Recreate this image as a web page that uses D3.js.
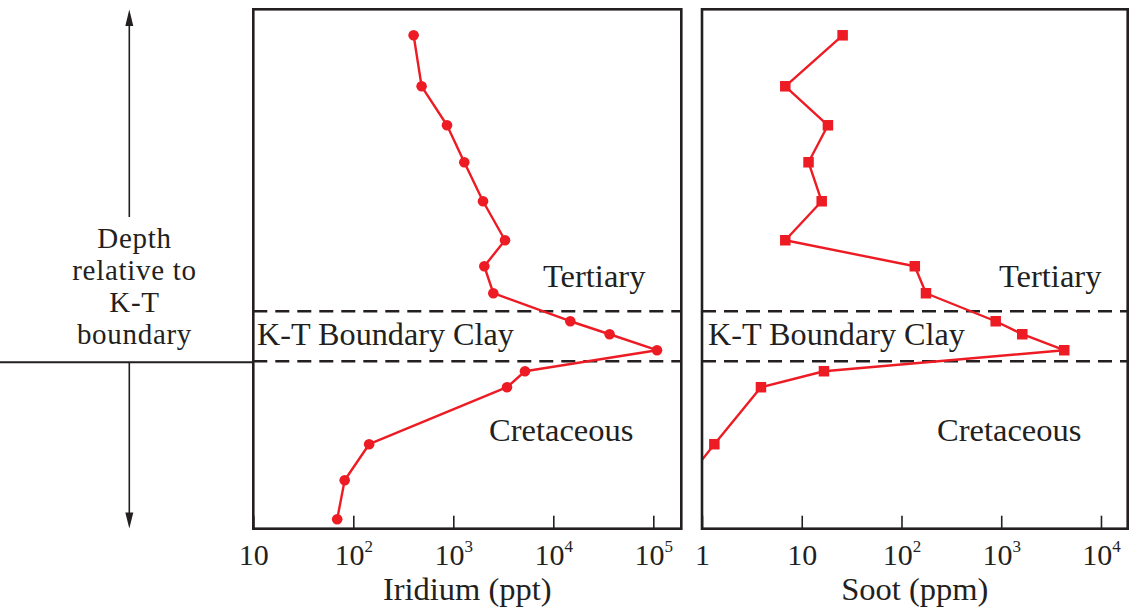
<!DOCTYPE html>
<html>
<head>
<meta charset="utf-8">
<script src="https://cdn.jsdelivr.net/npm/d3@7"></script>
<style>
  html, body { margin: 0; padding: 0; background: #fff; }
  svg { display: block; }
  text { font-family: "Liberation Serif", "Times New Roman", serif; fill: #231f20; }
</style>
</head>
<body>
<svg id="chart" width="1129" height="614"></svg>
<script>
// ---- data ----
// depth relative to the K-T boundary (arbitrary units, positive = above / younger)
const depth   = [32.6, 27.5, 23.6, 19.9, 16.0, 12.1, 9.5, 6.8, 4.0, 2.7, 1.1, -1.0, -2.6, -8.3, -11.9, -15.8];
const iridium = [401, 482, 865, 1288, 1982, 3289, 2042, 2512, 14790, 36560, 108900, 5212, 3443, 144, 82, 69];   // ppt
const soot    = [25.7, 6.84, 18.3, 11.7, 15.85, 6.84, 136, 176, 880, 1626, 4285, 16.7, 3.9, 1.33, 0.69];         // ppm
const clayBounds = [0, 5];            // lower / upper limits of the K-T boundary clay
const iridiumTicks = [10, 100, 1e3, 1e4, 1e5];
const sootTicks    = [1, 10, 100, 1e3, 1e4];
const regionLabels = ["Tertiary", "K-T Boundary Clay", "Cretaceous"];
const depthLabel = ["Depth", "relative to", "K-T", "boundary"];
const axisTitles = ["Iridium (ppt)", "Soot (ppm)"];

const RED = "#ed1c24", INK = "#231f20";
const svg = d3.select("#chart");

const plotTop = 9.3, plotBottom = 528.7;
const y = d3.scaleLinear().domain([-16.75, 35.2]).range([plotBottom, plotTop]);

const panels = [
  { x0: 253.3, x1: 681.3, domain: [10, Math.pow(10, 5.28)], values: iridium, ticks: iridiumTicks,
    title: axisTitles[0], marker: "circle", id: "ir" },
  { x0: 702, x1: 1127.7, domain: [1, Math.pow(10, 4.268)], values: soot, ticks: sootTicks,
    title: axisTitles[1], marker: "square", id: "so" }
];

const labelPos = [
  { tert: 543, kt: 257, cret: 489 },
  { tert: 999, kt: 708, cret: 937 }
];

panels.forEach((p, i) => {
  const x = d3.scaleLog().domain(p.domain).range([p.x0, p.x1]);
  const g = svg.append("g");

  g.append("clipPath").attr("id", "clip-" + p.id)
    .append("rect").attr("x", p.x0).attr("y", plotTop).attr("width", p.x1 - p.x0).attr("height", plotBottom - plotTop);

  // dashed boundary clay lines
  g.selectAll("line.dash").data(clayBounds).enter().append("line")
    .attr("class", "dash")
    .attr("x1", p.x0).attr("x2", p.x1)
    .attr("y1", d => y(d)).attr("y2", d => y(d))
    .attr("stroke", INK).attr("stroke-width", 2.4).attr("stroke-dasharray", "14,8");

  // region labels
  const lp = labelPos[i];
  g.append("text").attr("x", lp.tert).attr("y", 286.7).attr("font-size", 32.5).text(regionLabels[0]);
  g.append("text").attr("x", lp.kt).attr("y", 345).attr("font-size", 32.2).text(regionLabels[1]);
  g.append("text").attr("x", lp.cret).attr("y", 441).attr("font-size", 32.5).text(regionLabels[2]);

  // axis
  const axis = d3.axisBottom(x).tickValues(p.ticks).tickSize(-13).tickFormat("");
  const ag = g.append("g").attr("transform", `translate(0,${plotBottom})`).call(axis);
  ag.select(".domain").remove();
  ag.selectAll(".tick line").attr("stroke", INK).attr("stroke-width", 1.6);
  ag.selectAll(".tick").each(function(d) {
    const t = d3.select(this).append("text")
      .attr("y", 36).attr("text-anchor", "middle")
      .attr("font-size", 30).attr("fill", INK);
    const e = Math.round(Math.log10(d));
    if (e <= 1) { t.text(String(d)); }
    else {
      t.append("tspan").text("10");
      t.append("tspan").attr("font-size", 17).attr("dy", -13).text(String(e));
    }
  });

  // line + markers
  const pts = p.values.map((v, k) => [v, depth[k]]);
  const line = d3.line().x(d => x(d[0])).y(d => y(d[1]));
  const dg = g.append("g").attr("clip-path", `url(#clip-${p.id})`);
  dg.append("path").datum(pts).attr("d", line)
    .attr("fill", "none").attr("stroke", RED).attr("stroke-width", 2.4).attr("stroke-linejoin", "round");
  if (p.marker === "circle") {
    dg.selectAll("circle").data(pts).enter().append("circle")
      .attr("cx", d => x(d[0])).attr("cy", d => y(d[1])).attr("r", 5.3).attr("fill", RED);
  } else {
    const s = 10.5;
    dg.selectAll("rect.m").data(pts).enter().append("rect").attr("class", "m")
      .attr("x", d => x(d[0]) - s / 2).attr("y", d => y(d[1]) - s / 2)
      .attr("width", s).attr("height", s).attr("fill", RED);
  }

  // frame
  g.append("rect").attr("x", p.x0).attr("y", plotTop).attr("width", p.x1 - p.x0).attr("height", plotBottom - plotTop)
    .attr("fill", "none").attr("stroke", INK).attr("stroke-width", 2.6);

  // axis title
  g.append("text").attr("x", (p.x0 + p.x1) / 2).attr("y", 600).attr("text-anchor", "middle")
    .attr("font-size", 32.5).text(p.title);
});

// ---- left depth indicator ----
const ax = 129.3;
const lg = svg.append("g");
lg.append("line").attr("x1", 0).attr("x2", panels[0].x0).attr("y1", y(clayBounds[0]) + 1).attr("y2", y(clayBounds[0]) + 1)
  .attr("stroke", INK).attr("stroke-width", 2.2);
lg.append("line").attr("x1", ax).attr("x2", ax).attr("y1", 217).attr("y2", 22)
  .attr("stroke", INK).attr("stroke-width", 1.6);
lg.append("path").attr("d", `M${ax},9.5 L${ax - 4},26 L${ax + 4},26 Z`).attr("fill", INK);
lg.append("line").attr("x1", ax).attr("x2", ax).attr("y1", y(clayBounds[0]) + 1).attr("y2", 516)
  .attr("stroke", INK).attr("stroke-width", 1.6);
lg.append("path").attr("d", `M${ax},528.5 L${ax - 4},512.5 L${ax + 4},512.5 Z`).attr("fill", INK);

// multi-line depth label
lg.selectAll("text.dl").data(depthLabel).enter().append("text").attr("class", "dl")
  .attr("x", 134.5).attr("y", (d, k) => 247.7 + k * 32.2)
  .attr("text-anchor", "middle").attr("font-size", 29).attr("letter-spacing", 0.7)
  .text(d => d);
</script>
</body>
</html>
